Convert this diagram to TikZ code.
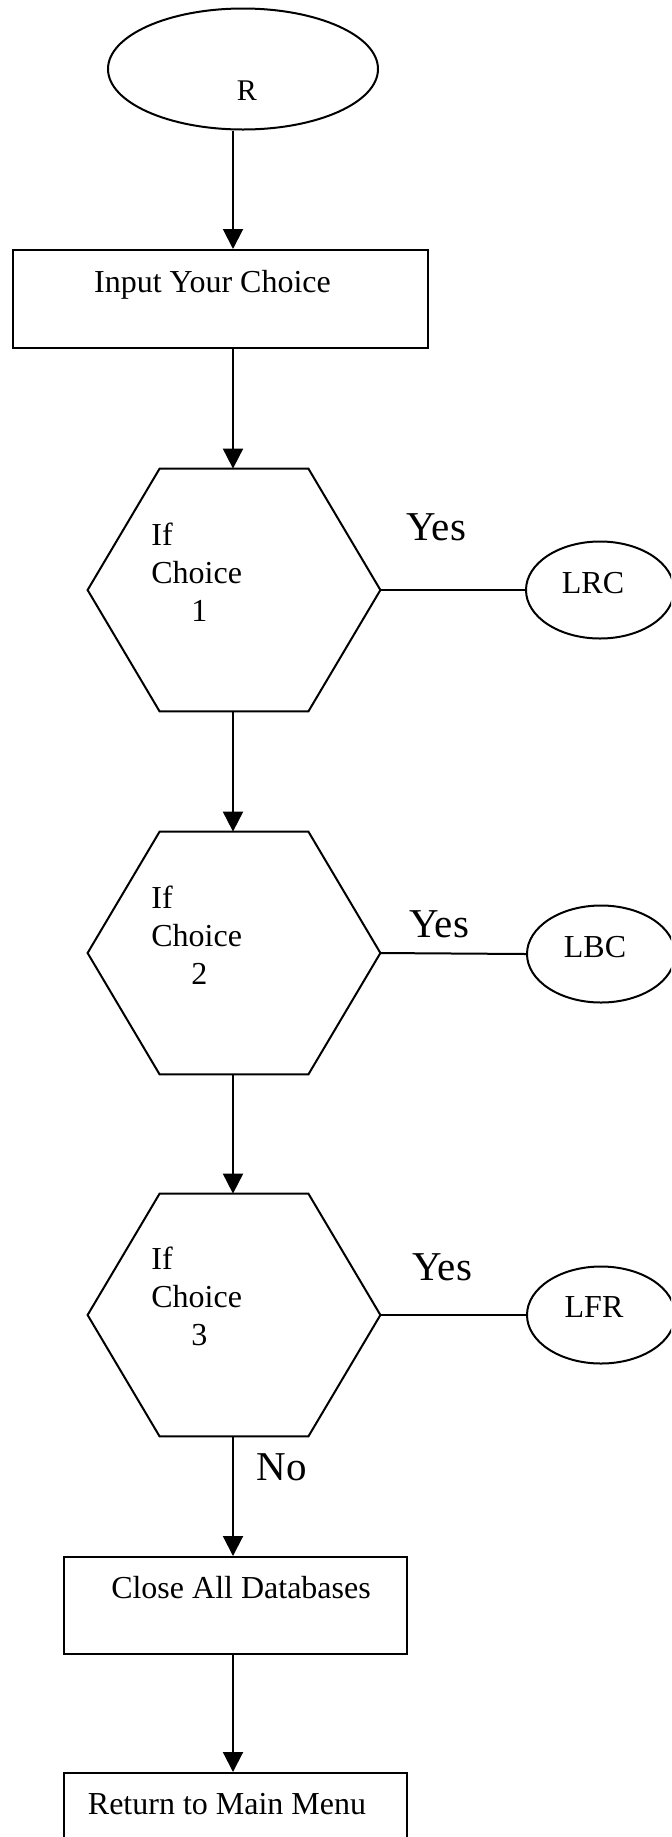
\documentclass[tikz,border=0pt]{standalone}
\usepackage{fontspec}
\setmainfont{Liberation Serif}
\usetikzlibrary{shapes.geometric,arrows.meta}

% body text and the larger branch labels
\newcommand\bodyfont{\fontsize{16pt}{19pt}\selectfont}
\newcommand\branchfont{\fontsize{20.5pt}{24pt}\selectfont}

% outline of a decision hexagon drawn on a plain rectangular node
\newcommand\hexoutline[1]{%
  \draw[line] (#1.west) -- ([xshift=36pt]#1.north west)
    -- ([xshift=-36pt]#1.north east) -- (#1.east)
    -- ([xshift=-36pt]#1.south east) -- ([xshift=36pt]#1.south west) -- cycle;}

\tikzset{
  line/.style={line width=1pt, draw=black},
  flow/.style={line, -{Triangle[length=10pt,width=10pt]}},
  stepbox/.style={line, rectangle, minimum width=#1, minimum height=49pt, inner sep=0pt},
  terminal/.style={line, ellipse, inner sep=0pt},
  hexframe/.style={rectangle, minimum width=146pt, minimum height=121pt, inner sep=0pt},
  txt/.style={inner sep=0pt, font=\bodyfont},
  branch/.style={inner sep=0pt, font=\branchfont, anchor=base west},
}

\begin{document}
\begin{tikzpicture}[x=0.5pt, y=-0.5pt]
\useasboundingbox (0,0) rectangle (671,1837);
\clip (0,0) rectangle (671,1837);

\coordinate (spine) at (233,0);

% start
\node[terminal, minimum width=135pt, minimum height=60.5pt] (R) at (243,69) {};
\node[txt, anchor=base, font=\fontsize{15pt}{18pt}\selectfont] (rtext) at (247,100) {R};

% input step
\node[stepbox=207.5pt] (inbox) at (220.5,299) {};
\node[txt, anchor=base] (intext) at (212.5,292) {Input Your Choice};

% decisions
\node[hexframe] (h1) at (234,590) {};
\node[hexframe] (h2) at (234,953) {};
\node[hexframe] (h3) at (234,1315) {};
\hexoutline{h1}
\hexoutline{h2}
\hexoutline{h3}

\node[txt, anchor=base west] (h1text) at (151,545)
  {\begin{tabular}[t]{@{}l@{}}If\\Choice\\\hspace*{20pt}1\end{tabular}};
\node[txt, anchor=base west] (h2text) at (151,908)
  {\begin{tabular}[t]{@{}l@{}}If\\Choice\\\hspace*{20pt}2\end{tabular}};
\node[txt, anchor=base west] (h3text) at (151,1269)
  {\begin{tabular}[t]{@{}l@{}}If\\Choice\\\hspace*{20pt}3\end{tabular}};

% branch targets
\node[terminal, minimum width=74pt, minimum height=48.5pt] (lrc) at (600,590) {};
\node[terminal, minimum width=74pt, minimum height=48.5pt] (lbc) at (601,954) {};
\node[terminal, minimum width=74pt, minimum height=48.5pt] (lfr) at (601,1315) {};
\node[txt, anchor=base] (lrctext) at (593,593) {LRC};
\node[txt, anchor=base] (lbctext) at (595,957) {LBC};
\node[txt, anchor=base] (lfrtext) at (594,1317) {LFR};

% closing steps
\node[stepbox=171.5pt, minimum height=48.5pt] (close) at (235.5,1605.5) {};
\node[txt, anchor=base] (closetext) at (241,1598) {Close All Databases};
\node[stepbox=171.5pt] (ret) at (235.5,1822) {};
\node[txt, anchor=base] (rettext) at (227,1814) {Return to Main Menu};

% main flow
\draw[flow] (R.south -| spine) -- (inbox.north -| spine);
\draw[flow] (inbox.south -| spine) -- (h1.north -| spine);
\draw[flow] (h1.south -| spine) -- (h2.north -| spine);
\draw[flow] (h2.south -| spine) -- (h3.north -| spine);
\draw[flow] (h3.south -| spine) -- (close.north -| spine);
\draw[flow] (close.south -| spine) -- (ret.north -| spine);

% yes branches
\draw[line] (h1.east) -- (lrc.west);
\draw[line] (h2.east) -- (lbc.west);
\draw[line] (h3.east) -- (lfr.west);

\node[branch] (yes1) at (406,540) {Yes};
\node[branch] (yes2) at (409,937) {Yes};
\node[branch] (yes3) at (412,1280) {Yes};
\node[branch] (no3) at (256,1480) {No};
\end{tikzpicture}
\end{document}
